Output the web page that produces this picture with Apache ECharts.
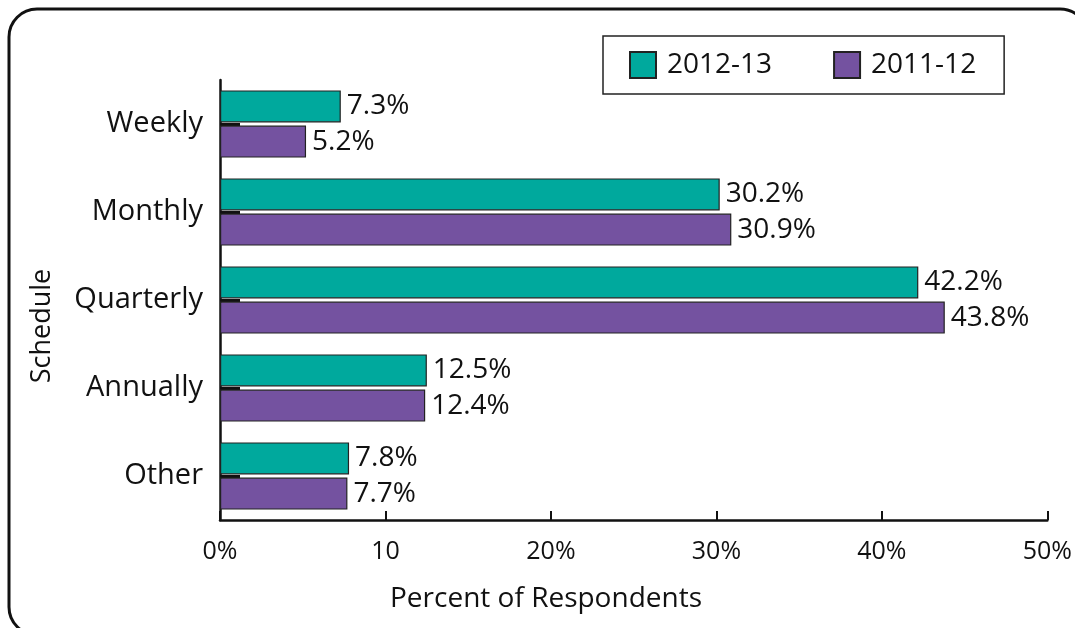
<!DOCTYPE html>
<html>
<head>
<meta charset="utf-8">
<script src="https://cdn.jsdelivr.net/npm/echarts@6/dist/echarts.min.js"></script>
<style>
html,body{margin:0;padding:0;background:#fff;}
#main{width:1075px;height:628px;}
</style>
</head>
<body>
<div id="main"></div>
<script>
var categories = ['Weekly', 'Monthly', 'Quarterly', 'Annually', 'Other'];
var seriesNames = ['2012-13', '2011-12'];
var values2012_13 = [7.3, 30.2, 42.2, 12.5, 7.8];
var values2011_12 = [5.2, 30.9, 43.8, 12.4, 7.7];
var xTickLabels = ['0%', '10', '20%', '30%', '40%', '50%'];
var xAxisTitle = 'Percent of Respondents';
var yAxisTitle = 'Schedule';

var FONT = '"Open Sans", "Noto Sans", sans-serif';
var chart = echarts.init(document.getElementById('main'), null, {renderer: 'canvas'});

var labelCfg = {
  show: true,
  position: 'right',
  distance: 6,
  color: '#111',
  fontFamily: FONT,
  fontSize: 28,
  formatter: function (p) { return p.value.toFixed(1) + '%'; }
};

chart.setOption({
  animation: false,
  backgroundColor: '#fff',
  textStyle: {fontFamily: FONT},
  grid: {left: 220, right: 23, top: 80, bottom: 108, containLabel: false},
  legend: {
    data: seriesNames,
    left: 603,
    top: 36,
    padding: [15, 28, 15, 26],
    itemWidth: 26,
    itemHeight: 26,
    itemGap: 61,
    icon: 'rect',
    borderColor: '#222',
    borderWidth: 1.5,
    textStyle: {fontFamily: FONT, fontSize: 28, color: '#111', padding: [0, 0, 0, 6]}
  },
  xAxis: {
    type: 'value',
    min: 0,
    max: 50,
    interval: 10,
    axisLine: {show: true, lineStyle: {color: '#111', width: 2.5}},
    axisTick: {show: true, inside: true, length: 9, lineStyle: {color: '#111', width: 2}},
    splitLine: {show: false},
    axisLabel: {
      fontFamily: FONT, fontSize: 25, color: '#111', margin: 19,
      formatter: function (v) { return xTickLabels[Math.round(v / 10)]; }
    }
  },
  yAxis: {
    type: 'category',
    data: categories,
    inverse: true,
    axisLine: {show: true, lineStyle: {color: '#111', width: 2.5}},
    axisTick: {show: true, inside: true, alignWithLabel: true, length: 20, lineStyle: {color: '#111', width: 3}},
    axisLabel: {fontFamily: FONT, fontSize: 29, color: '#111', margin: 17}
  },
  series: [
    {
      name: seriesNames[0],
      type: 'bar',
      data: values2012_13,
      barWidth: 32,
      barGap: '10%',
      itemStyle: {color: '#00A99D', borderColor: '#222', borderWidth: 1.2},
      label: labelCfg,
      z: 3
    },
    {
      name: seriesNames[1],
      type: 'bar',
      data: values2011_12,
      barWidth: 32,
      barGap: '10%',
      itemStyle: {color: '#7452A0', borderColor: '#222', borderWidth: 1.2},
      label: labelCfg,
      z: 3
    }
  ],
  graphic: [
    {
      type: 'rect',
      shape: {x: 9, y: 9, width: 1079, height: 626, r: 28},
      style: {fill: 'none', stroke: '#111', lineWidth: 3},
      silent: true,
      z: 100
    },
    {
      type: 'text',
      x: 546,
      y: 599,
      style: {text: xAxisTitle, font: '28px ' + FONT, fill: '#111', textAlign: 'center', textVerticalAlign: 'middle'}
    },
    {
      type: 'text',
      x: 42,
      y: 326,
      rotation: Math.PI / 2,
      style: {text: yAxisTitle, font: '27px ' + FONT, fill: '#111', textAlign: 'center', textVerticalAlign: 'middle'}
    }
  ]
});
</script>
</body>
</html>
